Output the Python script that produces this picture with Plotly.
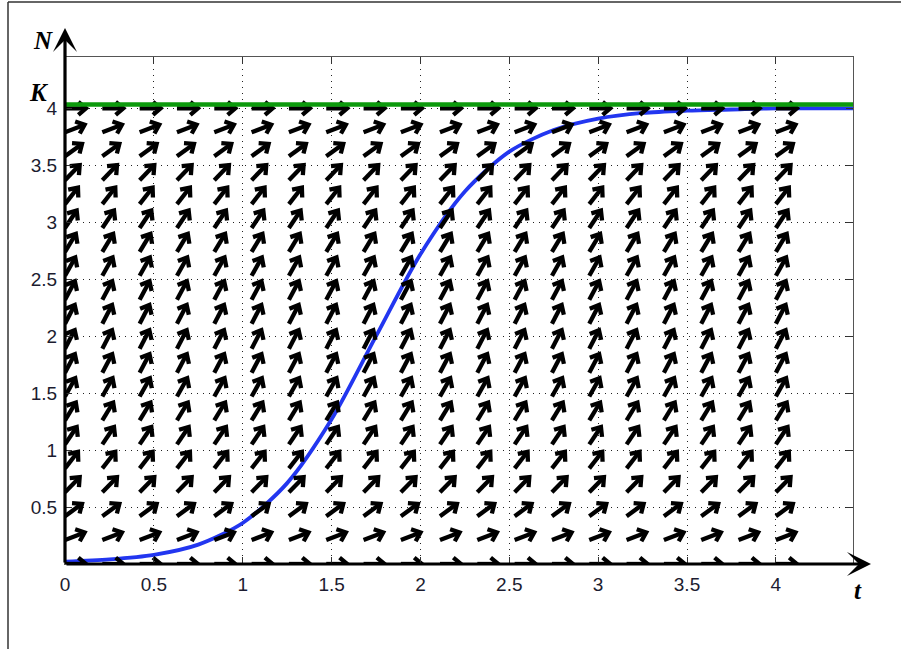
import math
import plotly.graph_objects as go

# ---------------- data ----------------
t_tick_vals = [0, 0.5, 1, 1.5, 2, 2.5, 3, 3.5, 4]
t_tick_text = ["0", "0.5", "1", "1.5", "2", "2.5", "3", "3.5", "4"]
n_tick_vals = [0.5, 1, 1.5, 2, 2.5, 3, 3.5, 4]
n_tick_text = ["0.5", "1", "1.5", "2", "2.5", "3", "3.5", "4"]

# direction field grid (columns in t, rows in N) and slope dN/dt of each row
field_t = [0, 0.21, 0.42, 0.63, 0.84, 1.05, 1.26, 1.47, 1.68, 1.89,
           2.11, 2.32, 2.53, 2.74, 2.95, 3.16, 3.37, 3.58, 3.79, 4.0]
field_n = [0, 0.21, 0.42, 0.63, 0.84, 1.05, 1.26, 1.47, 1.68, 1.89,
           2.11, 2.32, 2.53, 2.74, 2.95, 3.16, 3.37, 3.58, 3.79, 4.0]
field_slope = [0, 0.60, 1.13, 1.60, 1.99, 2.33, 2.59, 2.79, 2.93, 2.99,
               2.99, 2.93, 2.79, 2.59, 2.33, 1.99, 1.60, 1.13, 0.60, 0]

# solution curve
curve_t = [0, 0.25, 0.5, 0.75, 1.0, 1.25, 1.5, 1.75, 2.0, 2.25, 2.5,
           2.75, 3.0, 3.25, 3.5, 3.75, 4.0, 4.434]
curve_n = [0.02, 0.04, 0.08, 0.17, 0.36, 0.71, 1.27, 2.0, 2.72, 3.27, 3.62,
           3.81, 3.91, 3.96, 3.98, 3.99, 4.0, 4.0]

# carrying capacity line
k_t = [0, 4.434]
k_n = [4.035, 4.035]

# ---------------- layout geometry ----------------
W, H = 901, 649
ML, MR, MT, MB = 65, 48, 57, 85
PW, PH = W - ML - MR, H - MT - MB
X_RANGE = [0, 4.434]
Y_RANGE = [0, 4.451]
PX_X = PW / (X_RANGE[1] - X_RANGE[0])
PX_Y = PH / (Y_RANGE[1] - Y_RANGE[0])

SHAFT = 21.0   # px
BARB = 10.0    # px
BARB_ANG = math.radians(40)

ax_x, ax_y = [], []
for n, s in zip(field_n, field_slope):
    dx, dy = 1.0, s * PX_Y / PX_X
    norm = math.hypot(dx, dy)
    ux, uy = dx / norm, dy / norm
    for t in field_t:
        hx = t + SHAFT * ux / PX_X
        hy = n + SHAFT * uy / PX_Y
        ax_x += [t, hx, None]
        ax_y += [n, hy, None]
        bx, by = -ux, -uy
        pts = []
        for sgn in (1, -1):
            c, si = math.cos(sgn * BARB_ANG), math.sin(sgn * BARB_ANG)
            rx, ry = bx * c - by * si, bx * si + by * c
            pts.append((hx + BARB * rx / PX_X, hy + BARB * ry / PX_Y))
        ax_x += [pts[0][0], hx, pts[1][0], None]
        ax_y += [pts[0][1], hy, pts[1][1], None]

fig = go.Figure()
fig.add_trace(go.Scatter(x=curve_t, y=curve_n, mode="lines",
                         line=dict(color="#2236f0", width=3.8, shape="spline", smoothing=0.8),
                         hoverinfo="skip", showlegend=False))
fig.add_trace(go.Scatter(x=ax_x, y=ax_y, mode="lines",
                         line=dict(color="black", width=4.3),
                         hoverinfo="skip", showlegend=False))
fig.add_trace(go.Scatter(x=k_t, y=k_n, mode="lines",
                         line=dict(color="#0c9a0c", width=4.5),
                         hoverinfo="skip", showlegend=False))

def px2paper(px, py):
    return (px - ML) / PW, (H - MB - py) / PH

tick_font = dict(family="Liberation Sans, Arial", size=19, color="#1c1c30")
axis_common = dict(showline=True, mirror="ticks", linecolor="#555555", linewidth=1,
                   ticks="inside", ticklen=7, tickcolor="#333333",
                   showgrid=True, gridcolor="#222222", gridwidth=1, griddash="1px,5px",
                   zeroline=False, tickfont=tick_font)

fig.update_xaxes(range=X_RANGE, tickmode="array", tickvals=t_tick_vals, ticktext=t_tick_text,
                 ticklabelstandoff=3, **axis_common)
fig.update_yaxes(range=Y_RANGE, tickmode="array", tickvals=n_tick_vals, ticktext=n_tick_text,
                 ticklabelstandoff=3, **axis_common)

annotations = []
x0p, y0p = px2paper(871, H - MB)
annotations.append(dict(xref="paper", yref="paper", x=x0p, y=y0p, ax=-(871 - ML), ay=0,
                        text="", showarrow=True, arrowhead=3, arrowsize=1.25,
                        arrowwidth=3.2, arrowcolor="black"))
x1p, y1p = px2paper(ML, 28)
annotations.append(dict(xref="paper", yref="paper", x=x1p, y=y1p, ax=0, ay=(H - MB - 28),
                        text="", showarrow=True, arrowhead=3, arrowsize=1.25,
                        arrowwidth=3.2, arrowcolor="black"))
lab_font = dict(family="Liberation Serif, Times New Roman", size=25, color="black")
for txt, (px, py) in [("N", (43, 40)), ("K", (39, 92)), ("t", (858, 590))]:
    xp, yp = px2paper(px, py)
    annotations.append(dict(xref="paper", yref="paper", x=xp, y=yp, text="<b><i>%s</i></b>" % txt,
                            showarrow=False, font=lab_font, xanchor="center", yanchor="middle"))

lx, ty = px2paper(8, 2)
rx, by = px2paper(W, H)
shapes = [
    dict(type="line", xref="paper", yref="paper", x0=lx, x1=rx, y0=ty, y1=ty,
         line=dict(color="#333333", width=1.5)),
    dict(type="line", xref="paper", yref="paper", x0=lx, x1=lx, y0=ty, y1=by,
         line=dict(color="#333333", width=1.5)),
]

fig.update_layout(width=W, height=H, margin=dict(l=ML, r=MR, t=MT, b=MB),
                  plot_bgcolor="white", paper_bgcolor="white",
                  annotations=annotations, shapes=shapes, showlegend=False)

fig.write_html("out.html")
